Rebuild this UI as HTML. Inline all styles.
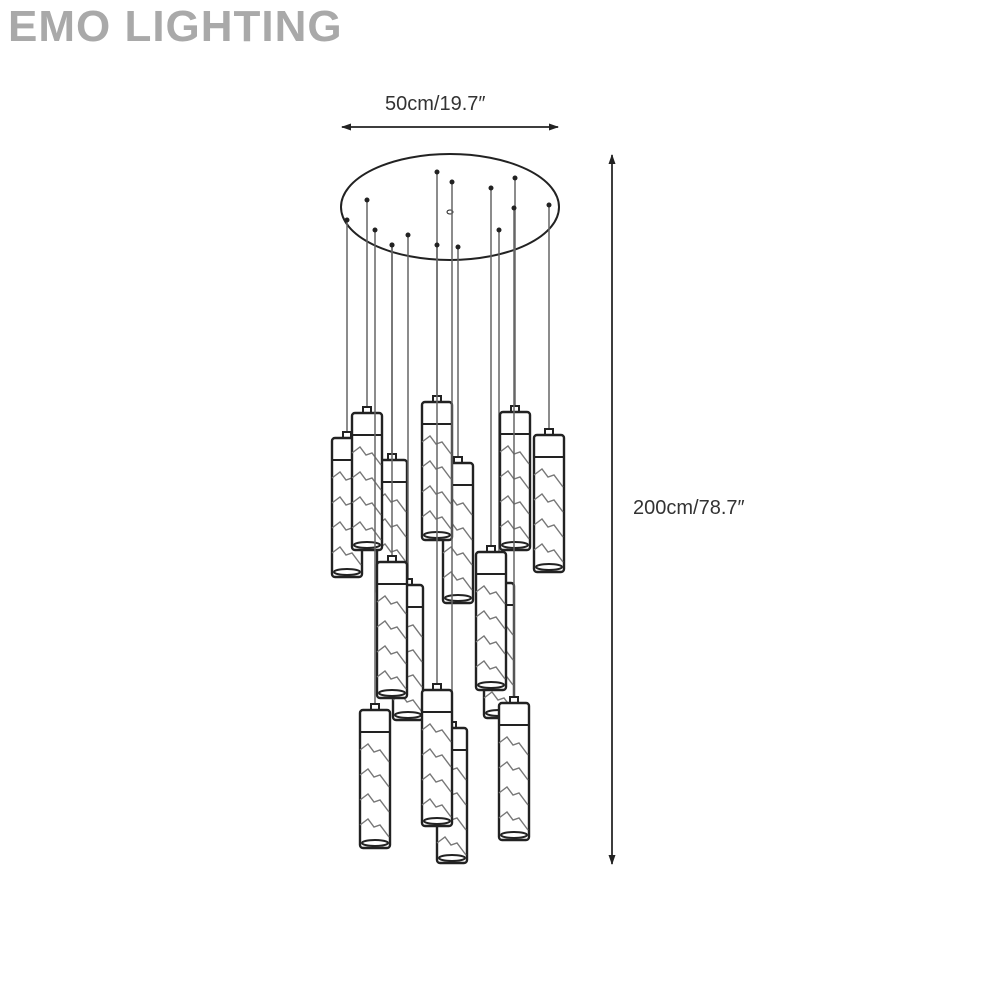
<!DOCTYPE html>
<html><head><style>
body{margin:0;background:#fff;width:989px;height:989px;overflow:hidden}
.logo{position:absolute;left:8px;top:2px;font:900 44px "Liberation Sans",sans-serif;color:#a9a9a9;letter-spacing:1px}
</style></head><body>
<div class="logo">EMO LIGHTING</div>
<svg width="989" height="989" style="position:absolute;left:0;top:0">
<defs>
<marker id="a" markerWidth="10" markerHeight="8" refX="9" refY="4" orient="auto" markerUnits="userSpaceOnUse"><path d="M0,0.5 L10,4 L0,7.5 Z" fill="#222"/></marker>
</defs>
<g font-family="Liberation Sans,sans-serif" font-size="20" fill="#333">
<text x="385" y="110">50cm/19.7″</text>
<text x="633" y="514">200cm/78.7″</text>
</g>
<line x1="342" y1="127" x2="558" y2="127" stroke="#222" stroke-width="1.5" marker-end="url(#a)"/>
<line x1="558" y1="127" x2="342" y2="127" stroke="#222" stroke-width="1.5" marker-end="url(#a)"/>
<line x1="612" y1="155" x2="612" y2="864" stroke="#222" stroke-width="1.5" marker-end="url(#a)"/>
<line x1="612" y1="864" x2="612" y2="155" stroke="#222" stroke-width="1.5" marker-end="url(#a)"/>
<ellipse cx="450" cy="207" rx="109" ry="53" fill="#fff" stroke="#222" stroke-width="2"/>
<ellipse cx="450" cy="212" rx="3" ry="2" fill="none" stroke="#222"/>
<g id="c" stroke="#444" stroke-width="2" fill="#fff"></g>
</svg>
<script>
var L=[[347,220,438,577],[367,200,413,550],[392,245,460,595],[437,172,402,540],[458,247,463,603],[515,178,412,550],[549,205,435,572],[392,245,562,698],[408,235,585,720],[491,188,552,690],[499,230,583,718],[375,230,710,848],[437,245,690,826],[452,182,728,863],[514,208,703,840]];
var order=[2,4,8,10,0,1,3,5,6,7,9,11,13,12,14];
var g=document.getElementById('c'),s='';
order.forEach(function(i){var c=L[i],x=c[0],t=c[2],b=c[3];
s+='<line x1="'+x+'" y1="'+c[1]+'" x2="'+x+'" y2="'+(t-6)+'" stroke="#666" stroke-width="1.5"/>';
s+='<circle cx="'+x+'" cy="'+c[1]+'" r="2.5" fill="#222" stroke="none"/>';
s+='<rect x="'+(x-4)+'" y="'+(t-6)+'" width="8" height="6" stroke="#222"/>';
s+='<rect x="'+(x-15)+'" y="'+t+'" width="30" height="'+(b-t)+'" rx="3" stroke="#222" stroke-width="2.4"/>';
s+='<line x1="'+(x-15)+'" y1="'+(t+22)+'" x2="'+(x+15)+'" y2="'+(t+22)+'" stroke="#222"/>';
s+='<ellipse cx="'+x+'" cy="'+(b-5)+'" rx="13" ry="3" fill="none" stroke="#222"/>';
for(var k=0;k<4;k++){var y=t+40+k*25;s+='<path d="M'+(x-15)+','+y+' l8,-6 l6,8 l6,-2 l9,12" fill="none" stroke="#777" stroke-width="1.4"/>';}
});
g.innerHTML=s;
</script>
</body></html>
